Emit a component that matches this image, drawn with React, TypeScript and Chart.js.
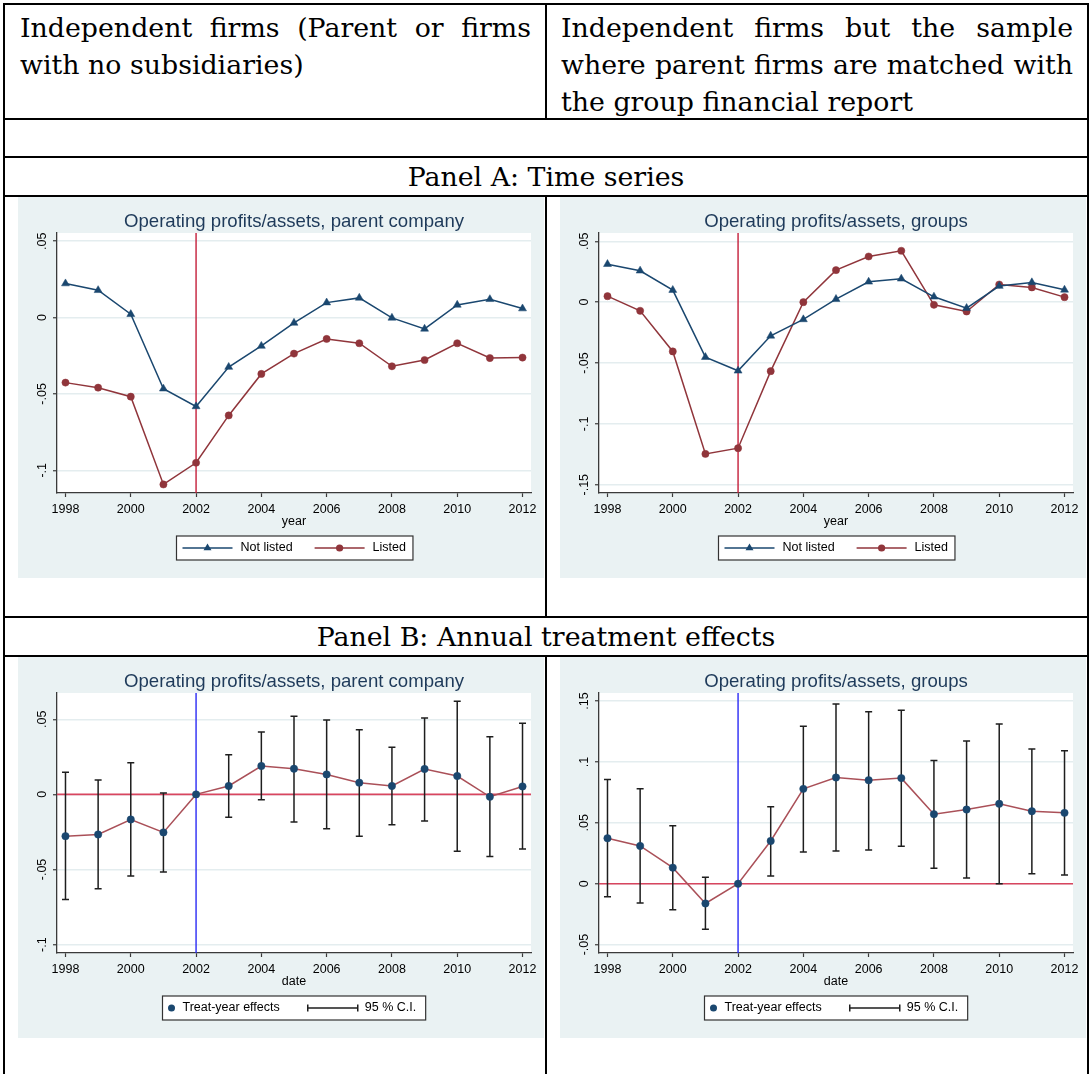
import React, { useEffect, useRef } from "react";
import { Chart, registerables } from "chart.js";

Chart.register(...registerables);

// ---------------- data ----------------
const YEARS = [1998, 1999, 2000, 2001, 2002, 2003, 2004, 2005, 2006, 2007, 2008, 2009, 2010, 2011, 2012];
const X_TICKS = [1998, 2000, 2002, 2004, 2006, 2008, 2010, 2012];
const X_LABELS = ["1998", "2000", "2002", "2004", "2006", "2008", "2010", "2012"];
const TREAT_YEAR = 2002;

// Panel A, parent company
const PARENT_NOT_LISTED = [0.0223, 0.0179, 0.0022, -0.0466, -0.0582, -0.0324, -0.0186, -0.0035, 0.0098, 0.0129, -0.0002, -0.0074, 0.0083, 0.012, 0.0059];
const PARENT_LISTED = [-0.0426, -0.0459, -0.0518, -0.1093, -0.0951, -0.0641, -0.0369, -0.0236, -0.014, -0.0168, -0.0319, -0.0278, -0.0168, -0.0265, -0.0262];
const PARENT_A_Y_TICKS = [0.05, 0, -0.05, -0.1];
const PARENT_A_Y_LABELS = [".05", "0", "-.05", "-.1"];

// Panel A, groups
const GROUP_NOT_LISTED = [0.0312, 0.0258, 0.0099, -0.0452, -0.0564, -0.0277, -0.0142, 0.0025, 0.0167, 0.0192, 0.0044, -0.0049, 0.0132, 0.0162, 0.0101];
const GROUP_LISTED = [0.0049, -0.0071, -0.0405, -0.1247, -0.12, -0.0567, 0.0, 0.0263, 0.0375, 0.0422, -0.0022, -0.0077, 0.0145, 0.0121, 0.0041];
const GROUP_A_Y_TICKS = [0.05, 0, -0.05, -0.1, -0.15];
const GROUP_A_Y_LABELS = [".05", "0", "-.05", "-.1", "-.15"];

// Panel B, parent company
const PARENT_EFFECT = [-0.0278, -0.0267, -0.0167, -0.0253, 0, 0.0056, 0.0189, 0.0171, 0.0133, 0.0078, 0.0056, 0.0169, 0.0122, -0.0016, 0.0053];
const PARENT_CI_HI = [0.0147, 0.0096, 0.0211, 0.0009, null, 0.0264, 0.0416, 0.052, 0.0496, 0.0431, 0.0313, 0.0509, 0.062, 0.0384, 0.0473];
const PARENT_CI_LO = [-0.07, -0.0629, -0.0544, -0.0516, null, -0.0153, -0.0036, -0.0184, -0.0229, -0.0278, -0.0202, -0.0178, -0.0378, -0.0413, -0.0364];
const PARENT_B_Y_TICKS = [0.05, 0, -0.05, -0.1];
const PARENT_B_Y_LABELS = [".05", "0", "-.05", "-.1"];

// Panel B, groups
const GROUP_EFFECT = [0.0373, 0.031, 0.0132, -0.0162, 0, 0.0351, 0.0779, 0.0872, 0.085, 0.0867, 0.0571, 0.0609, 0.0656, 0.0595, 0.0582];
const GROUP_CI_HI = [0.0856, 0.0779, 0.0475, 0.0052, null, 0.0631, 0.1292, 0.1476, 0.1413, 0.1424, 0.1012, 0.1171, 0.1311, 0.1106, 0.1092];
const GROUP_CI_LO = [-0.0107, -0.0159, -0.0214, -0.0373, null, 0.0063, 0.0261, 0.0269, 0.0277, 0.0307, 0.0126, 0.0047, 0.0, 0.0082, 0.0071];
const GROUP_B_Y_TICKS = [0.15, 0.1, 0.05, 0, -0.05];
const GROUP_B_Y_LABELS = [".15", ".1", ".05", "0", "-.05"];

// table texts
const HEAD_LEFT = ["Independent firms (Parent or firms", "with no subsidiaries)"];
const HEAD_RIGHT = ["Independent firms but the sample", "where parent firms are matched with", "the group financial report"];
const PANEL_A_TEXT = "Panel A: Time series";
const PANEL_B_TEXT = "Panel B: Annual treatment effects";

// ---------------- styles ----------------
const FONT = '"Liberation Sans", Arial, sans-serif';
const SERIF = '"DejaVu Serif", serif';
const SERIF_SIZE = 26.8;
const BG = "#EAF2F3";
const GRID = "#E4EDEF";
const AXIS = "#3a3a3a";
const NAVY = "#1A476F";
const MAROON = "#90353B";
const TITLE_COLOR = "#1E3A5A";
const VLINE_A = "#C41E3A";
const ZERO_LINE = "#D8455F";
const VLINE_B = "#2A2AF5";
const LINE_B = "#AA5058";
const CI_COLOR = "#1e1e1e";
const CW = 526;
const CH = 381;

type Spec = {
  kind: "A" | "B";
  title: string;
  xTitle: string;
  yMin: number;
  yMax: number;
  yTicks: number[];
  yLabels: string[];
  series?: { label: string; values: number[]; color: string; marker: "triangle" | "circle" }[];
  effect?: number[];
  hi?: (number | null)[];
  lo?: (number | null)[];
};

function drawTriangle(ctx: CanvasRenderingContext2D, x: number, y: number, r: number) {
  ctx.beginPath();
  let rad = 0;
  ctx.moveTo(x + Math.sin(rad) * r, y - Math.cos(rad) * r);
  rad += (2 * Math.PI) / 3;
  ctx.lineTo(x + Math.sin(rad) * r, y - Math.cos(rad) * r);
  rad += (2 * Math.PI) / 3;
  ctx.lineTo(x + Math.sin(rad) * r, y - Math.cos(rad) * r);
  ctx.closePath();
  ctx.fill();
}

function makePlugin(spec: Spec) {
  return {
    id: "stataDecor",
    beforeDraw(chart: any) {
      const { ctx, chartArea: a, width, height } = chart;
      ctx.save();
      ctx.fillStyle = BG;
      ctx.fillRect(0, 0, width, height);
      ctx.fillStyle = "#ffffff";
      ctx.fillRect(a.left, a.top, a.right - a.left, a.bottom - a.top);
      ctx.restore();
    },
    beforeDatasetsDraw(chart: any) {
      const { ctx, chartArea: a, scales } = chart;
      const xs = scales.x;
      const ys = scales.y;
      ctx.save();
      const px = xs.getPixelForValue(TREAT_YEAR);
      if (spec.kind === "A") {
        ctx.strokeStyle = VLINE_A;
        ctx.lineWidth = 1.4;
        ctx.beginPath();
        ctx.moveTo(px, a.top);
        ctx.lineTo(px, a.bottom);
        ctx.stroke();
      } else {
        const py = ys.getPixelForValue(0);
        ctx.strokeStyle = ZERO_LINE;
        ctx.lineWidth = 1.6;
        ctx.beginPath();
        ctx.moveTo(a.left, py);
        ctx.lineTo(a.right, py);
        ctx.stroke();
        ctx.strokeStyle = VLINE_B;
        ctx.lineWidth = 1.4;
        ctx.beginPath();
        ctx.moveTo(px, a.top);
        ctx.lineTo(px, a.bottom);
        ctx.stroke();
        // confidence intervals
        ctx.strokeStyle = CI_COLOR;
        ctx.lineWidth = 1.5;
        YEARS.forEach((yr, i) => {
          const h = spec.hi![i];
          const l = spec.lo![i];
          if (h === null || l === null) return;
          const x = xs.getPixelForValue(yr);
          const yh = ys.getPixelForValue(h);
          const yl = ys.getPixelForValue(l);
          ctx.beginPath();
          ctx.moveTo(x, yh);
          ctx.lineTo(x, yl);
          ctx.moveTo(x - 3.5, yh);
          ctx.lineTo(x + 3.5, yh);
          ctx.moveTo(x - 3.5, yl);
          ctx.lineTo(x + 3.5, yl);
          ctx.stroke();
        });
      }
      ctx.restore();
    },
    afterDraw(chart: any) {
      const { ctx, chartArea: a } = chart;
      ctx.save();
      ctx.font = `12.5px ${FONT}`;
      ctx.textBaseline = "middle";
      const cx = (a.left + a.right) / 2;
      const y0 = a.bottom + 43;
      const h = 24;
      const cy = y0 + h / 2;
      if (spec.kind === "A") {
        const items = spec.series!;
        const widths = items.map((it) => ctx.measureText(it.label).width);
        const total = 6 + items.reduce((s, _it, i) => s + 50 + 8 + widths[i], 0) + 22 * (items.length - 1) + 7;
        const x0 = Math.round(cx - total / 2) + 0.5;
        ctx.fillStyle = "#fff";
        ctx.fillRect(x0, y0, total, h);
        ctx.strokeStyle = "#333";
        ctx.lineWidth = 1.2;
        ctx.strokeRect(x0, y0, total, h);
        let x = x0 + 6;
        items.forEach((it, i) => {
          ctx.strokeStyle = it.color;
          ctx.fillStyle = it.color;
          ctx.lineWidth = 1.5;
          ctx.beginPath();
          ctx.moveTo(x, cy);
          ctx.lineTo(x + 50, cy);
          ctx.stroke();
          if (it.marker === "triangle") {
            drawTriangle(ctx, x + 25, cy, 4.6);
          } else {
            ctx.beginPath();
            ctx.arc(x + 25, cy, 3.6, 0, Math.PI * 2);
            ctx.fill();
          }
          ctx.fillStyle = "#000";
          ctx.textAlign = "left";
          ctx.fillText(it.label, x + 58, cy);
          x += 50 + 8 + widths[i] + 22;
        });
      } else {
        const t1 = "Treat-year effects";
        const t2 = "95 % C.I.";
        const w1 = ctx.measureText(t1).width;
        const w2 = ctx.measureText(t2).width;
        const total = 20 + w1 + 28 + 50 + 7 + w2 + 9.5;
        const x0 = Math.round(cx - total / 2) + 0.5;
        ctx.fillStyle = "#fff";
        ctx.fillRect(x0, y0, total, h);
        ctx.strokeStyle = "#333";
        ctx.lineWidth = 1.2;
        ctx.strokeRect(x0, y0, total, h);
        ctx.fillStyle = NAVY;
        ctx.beginPath();
        ctx.arc(x0 + 9, cy, 3.5, 0, Math.PI * 2);
        ctx.fill();
        ctx.fillStyle = "#000";
        ctx.textAlign = "left";
        ctx.fillText(t1, x0 + 20, cy);
        const lx = x0 + 20 + w1 + 28;
        ctx.strokeStyle = CI_COLOR;
        ctx.lineWidth = 1.5;
        ctx.beginPath();
        ctx.moveTo(lx, cy);
        ctx.lineTo(lx + 50, cy);
        ctx.moveTo(lx, cy - 3.5);
        ctx.lineTo(lx, cy + 3.5);
        ctx.moveTo(lx + 50, cy - 3.5);
        ctx.lineTo(lx + 50, cy + 3.5);
        ctx.stroke();
        ctx.fillText(t2, lx + 57, cy);
      }
      ctx.restore();
    },
  };
}

function buildConfig(spec: Spec): any {
  let datasets: any[];
  if (spec.kind === "A") {
    datasets = spec.series!.map((s) => ({
      label: s.label,
      data: YEARS.map((yr, i) => ({ x: yr, y: s.values[i] })),
      borderColor: s.color,
      backgroundColor: s.color,
      borderWidth: 1.5,
      pointStyle: s.marker,
      pointRadius: s.marker === "triangle" ? 4.6 : 3.6,
      pointBorderWidth: 0.5,
      pointBackgroundColor: s.color,
      pointBorderColor: s.color,
      tension: 0,
    }));
  } else {
    datasets = [
      {
        label: "Treat-year effects",
        data: YEARS.map((yr, i) => ({ x: yr, y: spec.effect![i] })),
        borderColor: LINE_B,
        backgroundColor: NAVY,
        borderWidth: 1.5,
        pointStyle: "circle",
        pointRadius: 3.7,
        pointBorderWidth: 0.5,
        pointBackgroundColor: NAVY,
        pointBorderColor: NAVY,
        tension: 0,
      },
    ];
  }
  const tickFont = { family: FONT, size: 12.5 };
  return {
    type: "line",
    data: { datasets },
    options: {
      animation: false,
      responsive: false,
      devicePixelRatio: 1,
      events: [],
      layout: { padding: { left: 0, right: 13, top: 0, bottom: 49 }, autoPadding: false },
      plugins: {
        legend: { display: false },
        tooltip: { enabled: false },
        title: {
          display: true,
          text: spec.title,
          fullSize: false,
          position: "top",
          color: TITLE_COLOR,
          font: { family: FONT, size: 18.6, weight: "normal", lineHeight: "20px" },
          padding: { top: 15, bottom: 1 },
        },
      },
      scales: {
        x: {
          type: "linear",
          position: "bottom",
          min: 1997.74,
          max: 2012.26,
          afterBuildTicks: (s: any) => {
            s.ticks = X_TICKS.map((v) => ({ value: v }));
          },
          afterFit: (s: any) => {
            s.height = 36;
            s.paddingLeft = 0;
            s.paddingRight = 0;
          },
          ticks: {
            autoSkip: false,
            maxRotation: 0,
            minRotation: 0,
            padding: 5,
            color: "#000",
            font: tickFont,
            callback: (_v: any, i: number) => X_LABELS[i],
          },
          grid: { drawOnChartArea: false, drawTicks: true, tickLength: 4, tickColor: AXIS, tickWidth: 1.2 },
          border: { display: true, color: AXIS, width: 1.3 },
          title: {
            display: true,
            text: spec.xTitle,
            color: "#000",
            font: { family: FONT, size: 12.5, lineHeight: "14px" },
            padding: { top: 0, bottom: 0 },
          },
        },
        y: {
          type: "linear",
          position: "left",
          min: spec.yMin,
          max: spec.yMax,
          afterBuildTicks: (s: any) => {
            s.ticks = spec.yTicks.map((v) => ({ value: v }));
          },
          afterFit: (s: any) => {
            s.width = 39;
            s.paddingTop = 0;
            s.paddingBottom = 0;
          },
          ticks: {
            autoSkip: false,
            minRotation: 90,
            maxRotation: 90,
            crossAlign: "center",
            padding: 0,
            color: "#000",
            font: tickFont,
            callback: (_v: any, i: number) => spec.yLabels[i],
          },
          grid: { color: GRID, lineWidth: 1.5, drawTicks: true, tickLength: 4, tickColor: AXIS, tickWidth: 1.2 },
          border: { display: true, color: AXIS, width: 1.3 },
        },
      },
    },
    plugins: [makePlugin(spec)],
  };
}

const SPECS: Spec[] = [
  {
    kind: "A",
    title: "Operating profits/assets, parent company",
    xTitle: "year",
    yMin: -0.1149,
    yMax: 0.0554,
    yTicks: PARENT_A_Y_TICKS,
    yLabels: PARENT_A_Y_LABELS,
    series: [
      { label: "Not listed", values: PARENT_NOT_LISTED, color: NAVY, marker: "triangle" },
      { label: "Listed", values: PARENT_LISTED, color: MAROON, marker: "circle" },
    ],
  },
  {
    kind: "A",
    title: "Operating profits/assets, groups",
    xTitle: "year",
    yMin: -0.1568,
    yMax: 0.0568,
    yTicks: GROUP_A_Y_TICKS,
    yLabels: GROUP_A_Y_LABELS,
    series: [
      { label: "Not listed", values: GROUP_NOT_LISTED, color: NAVY, marker: "triangle" },
      { label: "Listed", values: GROUP_LISTED, color: MAROON, marker: "circle" },
    ],
  },
  {
    kind: "B",
    title: "Operating profits/assets, parent company",
    xTitle: "date",
    yMin: -0.1056,
    yMax: 0.0675,
    yTicks: PARENT_B_Y_TICKS,
    yLabels: PARENT_B_Y_LABELS,
    effect: PARENT_EFFECT,
    hi: PARENT_CI_HI,
    lo: PARENT_CI_LO,
  },
  {
    kind: "B",
    title: "Operating profits/assets, groups",
    xTitle: "date",
    yMin: -0.0569,
    yMax: 0.1566,
    yTicks: GROUP_B_Y_TICKS,
    yLabels: GROUP_B_Y_LABELS,
    effect: GROUP_EFFECT,
    hi: GROUP_CI_HI,
    lo: GROUP_CI_LO,
  },
];

function StataChart({ spec, left, top }: { spec: Spec; left: number; top: number }) {
  const ref = useRef<HTMLCanvasElement>(null);
  useEffect(() => {
    const chart = new Chart(ref.current as HTMLCanvasElement, buildConfig(spec));
    return () => chart.destroy();
  }, [spec]);
  return (
    <canvas
      ref={ref}
      width={CW}
      height={CH}
      style={{ position: "absolute", left, top, width: CW, height: CH, display: "block" }}
    />
  );
}

function Line({ x, y, w, h }: { x: number; y: number; w: number; h: number }) {
  return <div style={{ position: "absolute", left: x, top: y, width: w, height: h, background: "#000" }} />;
}

function TextLines({ lines, left, top, width }: { lines: string[]; left: number; top: number; width: number }) {
  return (
    <div style={{ position: "absolute", left, top, width, fontFamily: SERIF, fontSize: SERIF_SIZE, lineHeight: "37px", color: "#000" }}>
      {lines.map((t, i) => (
        <div
          key={i}
          style={{
            whiteSpace: "nowrap",
            textAlign: i < lines.length - 1 ? "justify" : "left",
            textAlignLast: i < lines.length - 1 ? "justify" : "left",
          }}
        >
          {t}
        </div>
      ))}
    </div>
  );
}

export default function App() {
  return (
    <div style={{ position: "absolute", left: 0, top: 0, width: 1089, height: 1074, background: "#fff", overflow: "hidden" }}>
      {/* borders */}
      <Line x={3} y={3} w={1086} h={2} />
      <Line x={3} y={3} w={2} h={1071} />
      <Line x={1087} y={3} w={2} h={1071} />
      <Line x={3} y={118} w={1086} h={2} />
      <Line x={3} y={156} w={1086} h={2} />
      <Line x={3} y={195} w={1086} h={2} />
      <Line x={3} y={616} w={1086} h={2} />
      <Line x={3} y={655} w={1086} h={2} />
      <Line x={545} y={3} w={2} h={116} />
      <Line x={545} y={195} w={2} h={422} />
      <Line x={545} y={655} w={2} h={419} />

      <TextLines lines={HEAD_LEFT} left={20} top={9} width={511} />
      <TextLines lines={HEAD_RIGHT} left={561} top={9} width={512} />

      <div style={{ position: "absolute", left: 5, top: 158, width: 1082, height: 37, lineHeight: "37px", textAlign: "center", fontFamily: SERIF, fontSize: SERIF_SIZE }}>
        {PANEL_A_TEXT}
      </div>
      <div style={{ position: "absolute", left: 5, top: 618, width: 1082, height: 37, lineHeight: "37px", textAlign: "center", fontFamily: SERIF, fontSize: SERIF_SIZE }}>
        {PANEL_B_TEXT}
      </div>

      <StataChart spec={SPECS[0]} left={18} top={197} />
      <StataChart spec={SPECS[1]} left={560} top={197} />
      <StataChart spec={SPECS[2]} left={18} top={657} />
      <StataChart spec={SPECS[3]} left={560} top={657} />
    </div>
  );
}
